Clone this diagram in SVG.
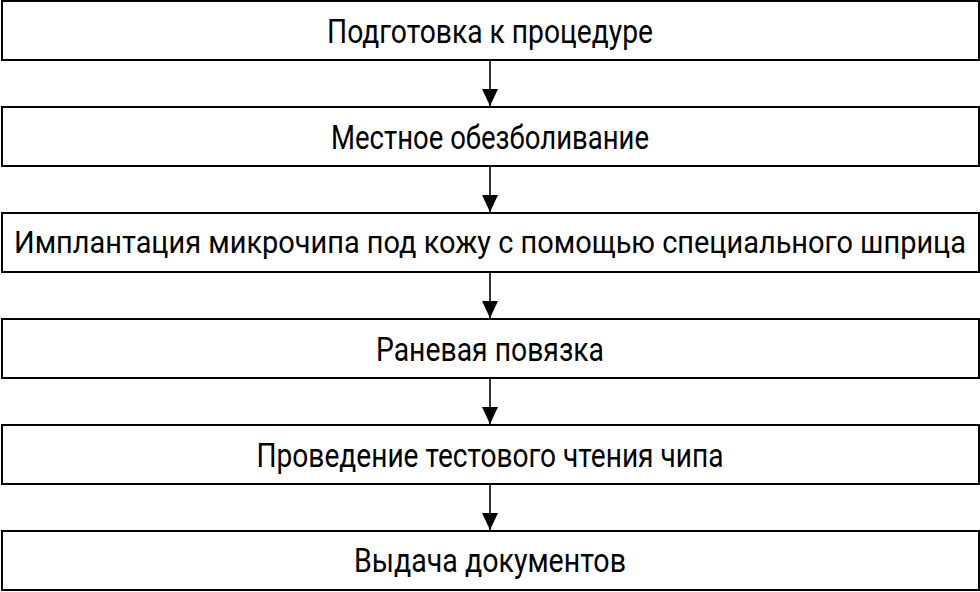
<svg xmlns="http://www.w3.org/2000/svg" width="980" height="592" viewBox="0 0 980 592">
<style>
.box{fill:#fff;stroke:#000;stroke-width:2}
.lbl{font-family:Roboto,"Liberation Sans",sans-serif;font-size:34px;fill:#000;text-anchor:middle}
.conn{stroke:#000;stroke-width:1.6;fill:none}
</style>
<defs>
<marker id="arr" markerUnits="userSpaceOnUse" markerWidth="18" markerHeight="20" refX="17" refY="8" orient="auto" viewBox="0 0 18 16">
<path d="M0,0 L17,8 L0,16 Z" fill="#000"/>
</marker>
</defs>
<rect width="980" height="592" fill="#fff"/>
<g id="connectors">
<line class="conn" x1="490" y1="61" x2="490" y2="106" marker-end="url(#arr)"/>
<line class="conn" x1="490" y1="167" x2="490" y2="212" marker-end="url(#arr)"/>
<line class="conn" x1="490" y1="273" x2="490" y2="318" marker-end="url(#arr)"/>
<line class="conn" x1="490" y1="379" x2="490" y2="424" marker-end="url(#arr)"/>
<line class="conn" x1="490" y1="485" x2="490" y2="530" marker-end="url(#arr)"/>
</g>
<g id="n1"><rect class="box" x="2" y="1" width="977" height="59"/><text class="lbl" x="490" y="43" textLength="326" lengthAdjust="spacingAndGlyphs">Подготовка к процедуре</text></g>
<g id="n2"><rect class="box" x="2" y="107" width="977" height="59"/><text class="lbl" x="490" y="149" textLength="318" lengthAdjust="spacingAndGlyphs">Местное обезболивание</text></g>
<g id="n3"><rect class="box" x="2" y="213" width="977" height="59"/><text class="lbl" x="490" y="253" style="font-size:31px" textLength="952" lengthAdjust="spacingAndGlyphs">Имплантация микрочипа под кожу с помощью специального шприца</text></g>
<g id="n4"><rect class="box" x="2" y="319" width="977" height="59"/><text class="lbl" x="490" y="361" textLength="228" lengthAdjust="spacingAndGlyphs">Раневая повязка</text></g>
<g id="n5"><rect class="box" x="2" y="425" width="977" height="59"/><text class="lbl" x="490" y="467" textLength="467" lengthAdjust="spacingAndGlyphs">Проведение тестового чтения чипа</text></g>
<g id="n6"><rect class="box" x="2" y="531" width="977" height="59"/><text class="lbl" x="490" y="572" textLength="272" lengthAdjust="spacingAndGlyphs">Выдача документов</text></g>
</svg>
